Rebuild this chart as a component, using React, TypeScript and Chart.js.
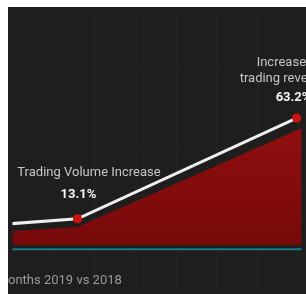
import { useEffect, useRef } from "react";
import { Chart, registerables } from "chart.js";

Chart.register(...registerables);

// ---- data ----
const lineX = [-1.5, 0.571, 5.952];
const lineValues = [10.0, 13.1, 63.2];
const areaX = [-1.5, 0.571, 6.5];
const areaValues = [6.3, 9.0, 62.0];
const baselineX = [-2, 7];
const baselineValues = [-2.1, -2.1];
const labelTitles: string[][] = [[], ["Trading Volume Increase"], ["Increase in", "trading revenue"]];
const footnote = "Months 2019 vs 2018";
const xGrid = [0, 1, 2, 3, 4, 5, 6];
const yGrid = [7.3, 48.2, 89.2];

const X_MIN = -1.024;
const X_MAX = 6.071;
const Y_MIN = -22.07;
const Y_MAX = 116.19;

const FONT = "Roboto, 'Liberation Sans', sans-serif";

const annotationPlugin = {
  id: "annotations",
  afterDatasetsDraw(chart: any) {
    const ctx = chart.ctx;
    const meta = chart.getDatasetMeta(0);
    ctx.save();
    ctx.textBaseline = "middle";

    // left annotation
    const p1 = meta.data[1];
    ctx.textAlign = "center";
    ctx.font = `13px ${FONT}`;
    ctx.fillStyle = "#c6c6c6";
    ctx.fillText(labelTitles[1][0], p1.x + 11.5, p1.y - 46);
    ctx.font = `bold 13px ${FONT}`;
    ctx.fillStyle = "#f4f4f4";
    ctx.fillText(`${lineValues[1]}%`, p1.x + 1, p1.y - 24);

    // right annotation
    const p2 = meta.data[2];
    ctx.textAlign = "left";
    ctx.font = `13px ${FONT}`;
    ctx.fillStyle = "#c6c6c6";
    ctx.fillText(labelTitles[2][0], p2.x - 40, p2.y - 55);
    ctx.fillText(labelTitles[2][1], p2.x - 57, p2.y - 39);
    ctx.font = `bold 13px ${FONT}`;
    ctx.fillStyle = "#f4f4f4";
    ctx.fillText(`${lineValues[2]}%`, p2.x - 21, p2.y - 20);

    // footnote (cropped on the left)
    ctx.font = `13px ${FONT}`;
    const m = ctx.measureText("M").width;
    ctx.fillStyle = "#9a9a9a";
    ctx.fillText(footnote, -m, chart.height - 13);
    ctx.restore();
  },
};

export default function App() {
  const ref = useRef<HTMLCanvasElement | null>(null);

  useEffect(() => {
    if (!ref.current) return;
    const gridColor = "rgba(255,255,255,0.022)";
    const chart = new Chart(ref.current, {
      type: "line",
      data: {
        datasets: [
          {
            data: lineX.map((x, i) => ({ x, y: lineValues[i] })),
            borderColor: "#efefef",
            borderWidth: 3,
            pointRadius: [0, 4.5, 4.5],
            pointBackgroundColor: "#d21010",
            pointBorderWidth: 0,
            tension: 0,
            fill: false,
          },
          {
            data: areaX.map((x, i) => ({ x, y: areaValues[i] })),
            borderWidth: 0,
            borderColor: "rgba(0,0,0,0)",
            pointRadius: 0,
            tension: 0,
            fill: "origin",
            backgroundColor: (c: any) => {
              const area = c.chart.chartArea;
              if (!area) return "#860c0c";
              const ys = c.chart.scales.y;
              const g = c.chart.ctx.createLinearGradient(0, ys.getPixelForValue(60), 0, ys.getPixelForValue(0));
              g.addColorStop(0, "#910e0e");
              g.addColorStop(1, "#780a0a");
              return g;
            },
          },
          {
            data: baselineX.map((x, i) => ({ x, y: baselineValues[i] })),
            borderColor: "#197c84",
            borderWidth: 2,
            pointRadius: 0,
            fill: false,
          },
        ],
      },
      options: {
        animation: false,
        responsive: false,
        events: [],
        layout: { padding: 0 },
        plugins: { legend: { display: false }, tooltip: { enabled: false } },
        scales: {
          x: {
            type: "linear",
            min: X_MIN,
            max: X_MAX,
            afterBuildTicks: (s: any) => {
              s.ticks = xGrid.map((v) => ({ value: v }));
            },
            ticks: { display: false },
            grid: { color: gridColor, lineWidth: 1.5, drawTicks: false },
            border: { display: false },
          },
          y: {
            type: "linear",
            min: Y_MIN,
            max: Y_MAX,
            afterBuildTicks: (s: any) => {
              s.ticks = yGrid.map((v) => ({ value: v }));
            },
            ticks: { display: false },
            grid: { color: gridColor, lineWidth: 1.5, drawTicks: false },
            border: { display: false },
          },
        },
      },
      plugins: [annotationPlugin],
    } as any);
    return () => chart.destroy();
  }, []);

  return (
    <div
      style={{
        position: "fixed",
        left: 8,
        top: 7,
        width: 298,
        height: 287,
        background: "#1e1e1e",
        overflow: "hidden",
      }}
    >
      <canvas ref={ref} width={298} height={287} style={{ display: "block" }} />
    </div>
  );
}
